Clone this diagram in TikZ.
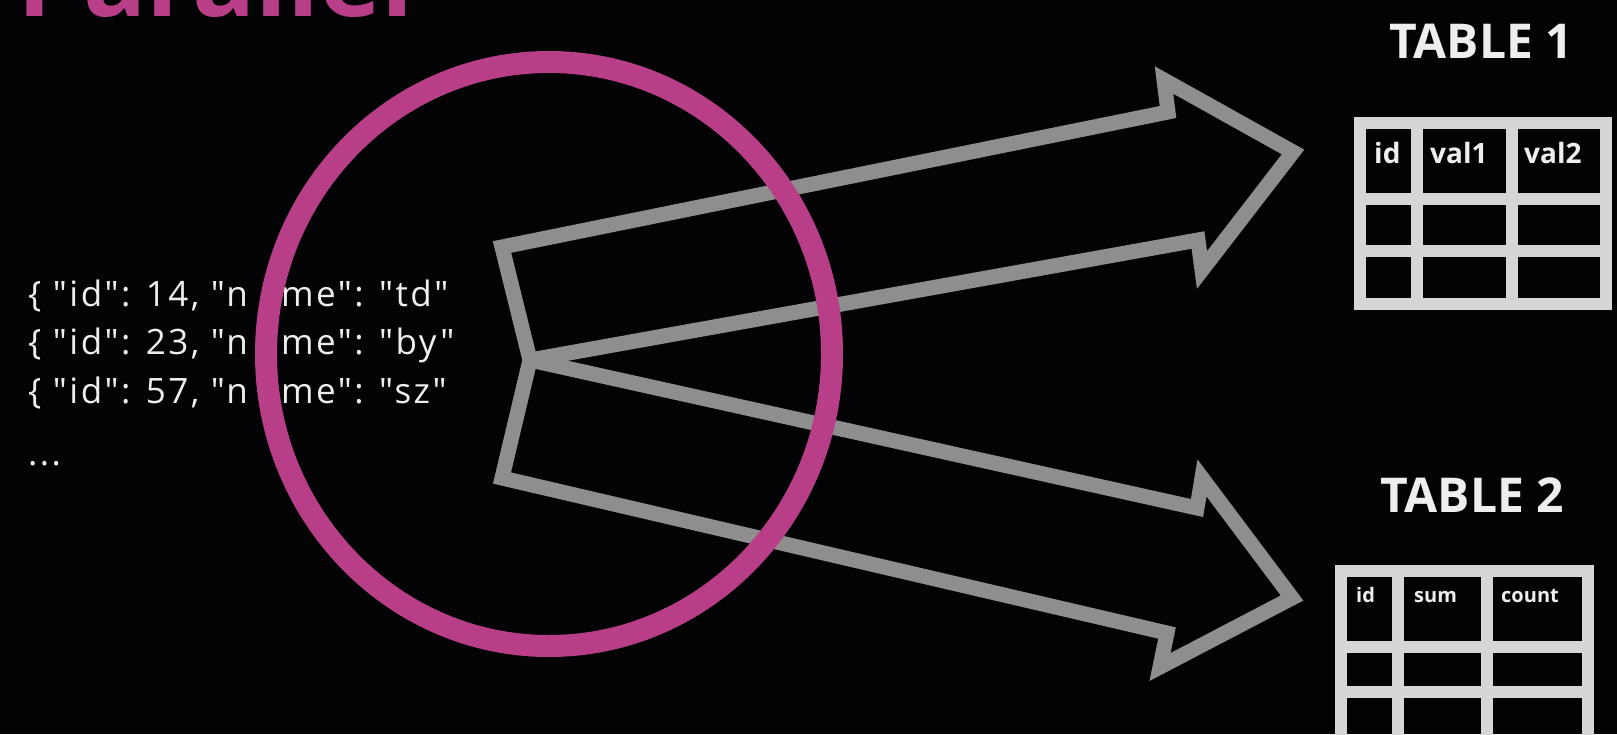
\documentclass[tikz,border=0pt]{standalone}
\usepackage{fontspec}
\setmainfont{Open Sans}
\newfontfamily\jsonfont[LetterSpace=7]{Open Sans}
\definecolor{bg}{RGB}{3,3,5}
\definecolor{mag}{RGB}{184,62,136}
\definecolor{arrowgray}{RGB}{142,142,142}
\definecolor{framegray}{RGB}{214,214,214}
\definecolor{txt}{RGB}{238,238,238}
\begin{document}
\begin{tikzpicture}[x=1pt,y=-1pt,
  json/.style={anchor=base west, inner sep=0pt, text=txt, font=\jsonfont\fontsize{35}{40}\selectfont},
  tabletitle/.style={anchor=base, inner sep=0pt, text=txt, font=\fontsize{48}{52}\selectfont\bfseries},
  headone/.style={anchor=base west, inner sep=0pt, text=txt, font=\fontsize{28}{32}\selectfont\bfseries},
  headtwo/.style={anchor=base west, inner sep=0pt, text=txt, font=\fontsize{20}{24}\selectfont\bfseries},
  tableline/.style={draw=framegray, line width=12pt, line join=miter},
  arrowline/.style={draw=arrowgray, line width=15pt, line join=miter},
  ring/.style={draw=mag, line width=22pt}]
\useasboundingbox (0,0) rectangle (1617,734);
\fill[bg] (0,0) rectangle (1617,734);
\clip (0,0) rectangle (1617,734);

% title
\node[anchor=base west, inner sep=0pt, text=mag, font=\fontsize{105}{110}\selectfont\bfseries] (title) at (17,16) {Parallel};

% json lines (the middle of each line lies under the ring)
\node[json] (j1) at (28,306) {\{ "id": 14, "n};
\node[json] (j1b) at (281,306) {me": "td"};
\node[json] (j2) at (28,354) {\{ "id": 23, "n};
\node[json] (j2b) at (281,354) {me": "by"};
\node[json] (j3) at (28,403) {\{ "id": 57, "n};
\node[json] (j3b) at (281,403) {me": "sz"};
\node[json] (j4) at (28,465) {...};

% arrows
\draw[arrowline] (502,247) -- (1168,112) -- (1164,80) -- (1293,152) -- (1202,270) -- (1198,240) -- (530,360) -- cycle;
\draw[arrowline] (530,360) -- (1197,508) -- (1202,478) -- (1292,598) -- (1160,667) -- (1167,633) -- (502,478) -- cycle;

% ring
\draw[ring] (549,354) ellipse [x radius=283, y radius=292];

% table 1
\node[tabletitle] (t1) at (1481,58) {TABLE 1};
\draw[tableline] (1360,123) rectangle (1605.5,304);
\draw[tableline] (1417,123) -- (1417,304);
\draw[tableline] (1511.5,123) -- (1511.5,304);
\draw[tableline] (1360,199) -- (1605.5,199);
\draw[tableline] (1360,251) -- (1605.5,251);
\node[headone] (t1id) at (1374,163) {id};
\node[headone] (t1v1) at (1430,163) {val1};
\node[headone] (t1v2) at (1524,163) {val2};

% table 2
\node[tabletitle] (t2) at (1472,512) {TABLE 2};
\draw[tableline] (1340.5,571) rectangle (1588,760);
\draw[tableline] (1398,571) -- (1398,760);
\draw[tableline] (1486.5,571) -- (1486.5,760);
\draw[tableline] (1340.5,647) -- (1588,647);
\draw[tableline] (1340.5,691.5) -- (1588,691.5);
\node[headtwo] (t2id) at (1356,602) {id};
\node[headtwo] (t2sum) at (1414,602) {sum};
\node[headtwo] (t2cnt) at (1501,602) {count};
\end{tikzpicture}
\end{document}
